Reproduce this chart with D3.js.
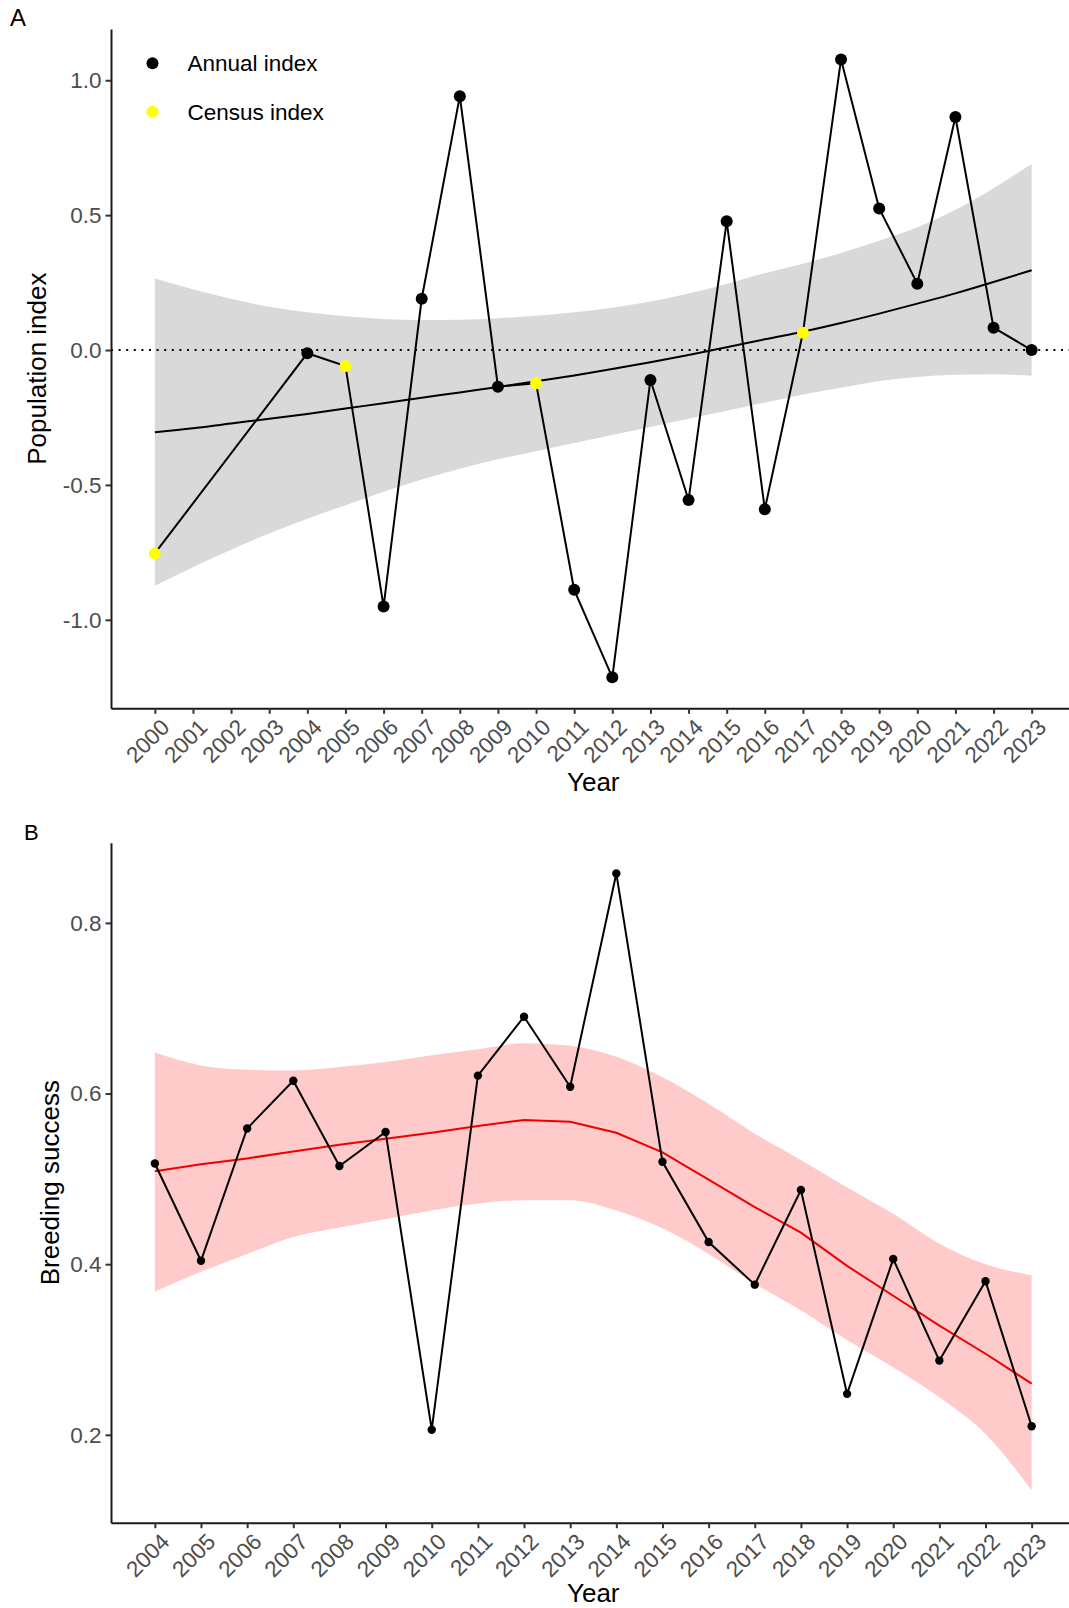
<!DOCTYPE html>
<html lang="en">
<head>
	<meta charset="UTF-8">
	<title>Population index and breeding success</title>
	<script src="https://cdn.jsdelivr.net/npm/d3@7"></script>
	<style>
		body{
			margin:0;
			background:white;
		}
		svg{
			display:block;
			font-family:"Liberation Sans", Arial, sans-serif;
		}
		.axis path, .axis line{
			stroke:#1a1a1a;
			stroke-width:2;
		}
		.axis .tick line{
			stroke:#333333;
		}
		.axis text{
			fill:#4d4d4d;
			font-size:22.5px;
			font-family:"Liberation Sans", Arial, sans-serif;
		}
		.title{
			font-size:26px;
			fill:black;
		}
	</style>
</head>
<body>
	<svg width="1069" height="1608"></svg>
	<script>
		// panel A: population index
		var popYears = [2000, 2004, 2005, 2006, 2007, 2008, 2009, 2010, 2011, 2012, 2013,
			2014, 2015, 2016, 2017, 2018, 2019, 2020, 2021, 2022, 2023];
		var popIndex = [-0.754, -0.012, -0.059, -0.951, 0.190, 0.941, -0.136, -0.123, -0.889, -1.213, -0.111,
			-0.556, 0.477, -0.590, 0.064, 1.077, 0.525, 0.246, 0.864, 0.083, 0.000];
		var censusYears = [2000, 2005, 2010, 2017];

		var trendYears = d3.range(2000, 2024);
		var trendFit = [-0.305, -0.290, -0.272, -0.255, -0.237, -0.217, -0.197, -0.177, -0.157, -0.137, -0.116, -0.094,
			-0.070, -0.045, -0.018, 0.010, 0.040, 0.068, 0.100, 0.135, 0.172, 0.210, 0.252, 0.296];
		var trendLo = [-0.874, -0.805, -0.740, -0.680, -0.625, -0.575, -0.525, -0.480, -0.440, -0.405, -0.375, -0.345,
			-0.315, -0.285, -0.255, -0.225, -0.195, -0.165, -0.140, -0.115, -0.100, -0.092, -0.090, -0.095];
		var trendHi = [0.265, 0.225, 0.190, 0.160, 0.140, 0.125, 0.115, 0.111, 0.112, 0.118, 0.127, 0.140,
			0.157, 0.180, 0.210, 0.245, 0.285, 0.320, 0.360, 0.405, 0.455, 0.520, 0.600, 0.690];
		var popTicks = [-1.0, -0.5, 0.0, 0.5, 1.0];

		var legendLabels = ["Annual index", "Census index"];
		var legendColors = ["black", "#ffff00"];

		// panel B: breeding success
		var bsYears = d3.range(2004, 2024);
		var bsValue = [0.518, 0.404, 0.559, 0.615, 0.515, 0.555, 0.206, 0.621, 0.690, 0.608,
			0.858, 0.520, 0.426, 0.376, 0.487, 0.248, 0.406, 0.287, 0.380, 0.210];
		var bsFit = [0.509, 0.517, 0.524, 0.532, 0.540, 0.547, 0.554, 0.562, 0.569, 0.567,
			0.554, 0.531, 0.499, 0.467, 0.437, 0.398, 0.363, 0.328, 0.295, 0.260];
		var bsLo = [0.368, 0.391, 0.412, 0.432, 0.443, 0.453, 0.463, 0.471, 0.475, 0.475,
			0.463, 0.442, 0.412, 0.377, 0.346, 0.311, 0.279, 0.244, 0.201, 0.135];
		var bsHi = [0.648, 0.633, 0.628, 0.627, 0.631, 0.637, 0.645, 0.652, 0.659, 0.656,
			0.643, 0.619, 0.588, 0.553, 0.522, 0.490, 0.459, 0.424, 0.400, 0.387];
		var bsTicks = [0.2, 0.4, 0.6, 0.8];

		var svg = d3.select("svg");
		var left = 111, right = 1075.5;

		// plain hyphen for negatives, like R does
		function fmt1(d){ return d.toFixed(1); }

		function drawXAxis(g, x, years, bottom, titleGap){
			var ax = g.append("g")
				.attr("class", "axis")
				.attr("transform", "translate(0," + bottom + ")")
				.call(d3.axisBottom(x).tickValues(years).tickFormat(d3.format("d")).tickSize(5.5).tickSizeOuter(0));
			ax.selectAll("text")
				.attr("x", 0)
				.attr("y", 0)
				.attr("dy", "0.72em")
				.attr("text-anchor", "end")
				.attr("transform", "translate(4,9) rotate(-45)");
			g.append("text")
				.attr("class", "title")
				.attr("x", (left + right) / 2)
				.attr("y", bottom + titleGap)
				.attr("text-anchor", "middle")
				.text("Year");
		}

		function drawYAxis(g, y, ticks, label, titleX){
			g.append("g")
				.attr("class", "axis")
				.attr("transform", "translate(" + left + ",0)")
				.call(d3.axisLeft(y).tickValues(ticks).tickFormat(fmt1).tickSize(5.5).tickPadding(4).tickSizeOuter(0));
			var r = y.range();
			g.append("text")
				.attr("class", "title")
				.attr("transform", "translate(" + titleX + "," + (r[0] + r[1]) / 2 + ") rotate(-90)")
				.attr("text-anchor", "middle")
				.text(label);
		}

		// ---------- panel A ----------
		var gA = svg.append("g");
		var xA = d3.scaleLinear().domain([2000 - 1.15, 2023 + 1.15]).range([left, right]);
		var yA = d3.scaleLinear().domain([-1.328, 1.19]).range([708.3, 29]);

		var bandA = trendYears.map(function(yr, i){
			return {year: yr, fit: trendFit[i], lo: trendLo[i], hi: trendHi[i]};
		});
		gA.append("path")
			.datum(bandA)
			.attr("fill", "#d9d9d9")
			.attr("d", d3.area()
				.x(function(d){ return xA(d.year); })
				.y0(function(d){ return yA(d.lo); })
				.y1(function(d){ return yA(d.hi); })
				.curve(d3.curveMonotoneX));

		gA.append("line")
			.attr("x1", left).attr("x2", 1069)
			.attr("y1", yA(0)).attr("y2", yA(0))
			.attr("stroke", "black")
			.attr("stroke-width", 2)
			.attr("stroke-dasharray", "2,5.6");

		gA.append("path")
			.datum(bandA)
			.attr("fill", "none")
			.attr("stroke", "black")
			.attr("stroke-width", 2)
			.attr("d", d3.line()
				.x(function(d){ return xA(d.year); })
				.y(function(d){ return yA(d.fit); })
				.curve(d3.curveMonotoneX));

		var popData = popYears.map(function(yr, i){
			return {year: yr, value: popIndex[i], census: censusYears.indexOf(yr) >= 0};
		});
		gA.append("path")
			.datum(popData)
			.attr("fill", "none")
			.attr("stroke", "black")
			.attr("stroke-width", 2)
			.attr("d", d3.line()
				.x(function(d){ return xA(d.year); })
				.y(function(d){ return yA(d.value); }));

		gA.selectAll(".pt")
			.data(popData)
			.enter().append("circle")
			.attr("class", "pt")
			.attr("cx", function(d){ return xA(d.year); })
			.attr("cy", function(d){ return yA(d.value); })
			.attr("r", 6)
			.attr("fill", function(d){ return d.census ? legendColors[1] : legendColors[0]; });

		drawYAxis(gA, yA, popTicks, "Population index", 46);
		drawXAxis(gA, xA, trendYears, 708.3, 83);

		var leg = gA.selectAll(".leg")
			.data(legendLabels)
			.enter().append("g")
			.attr("class", "leg")
			.attr("transform", function(d, i){ return "translate(152.5," + (63.3 + i * 48.4) + ")"; });
		leg.append("circle")
			.attr("r", 6)
			.attr("fill", function(d, i){ return legendColors[i]; });
		leg.append("text")
			.attr("x", 35)
			.attr("y", 8)
			.attr("font-size", "22.5px")
			.text(function(d){ return d; });

		svg.append("text")
			.attr("x", 10)
			.attr("y", 26)
			.attr("font-size", "24px")
			.text("A");

		// ---------- panel B ----------
		var gB = svg.append("g");
		var xB = d3.scaleLinear().domain([2004 - 0.95, 2023 + 0.95]).range([left, right]);
		var yB = d3.scaleLinear().domain([0.097, 0.894]).range([1522.7, 842.7]);

		var bsData = bsYears.map(function(yr, i){
			return {year: yr, value: bsValue[i], fit: bsFit[i], lo: bsLo[i], hi: bsHi[i]};
		});

		gB.append("path")
			.datum(bsData)
			.attr("fill", "#ffcaca")
			.attr("d", d3.area()
				.x(function(d){ return xB(d.year); })
				.y0(function(d){ return yB(d.lo); })
				.y1(function(d){ return yB(d.hi); })
				.curve(d3.curveMonotoneX));

		gB.append("path")
			.datum(bsData)
			.attr("fill", "none")
			.attr("stroke", "#ee0000")
			.attr("stroke-width", 2)
			.attr("d", d3.line()
				.x(function(d){ return xB(d.year); })
				.y(function(d){ return yB(d.fit); }));

		gB.append("path")
			.datum(bsData)
			.attr("fill", "none")
			.attr("stroke", "black")
			.attr("stroke-width", 2)
			.attr("d", d3.line()
				.x(function(d){ return xB(d.year); })
				.y(function(d){ return yB(d.value); }));

		gB.selectAll(".pt")
			.data(bsData)
			.enter().append("circle")
			.attr("class", "pt")
			.attr("cx", function(d){ return xB(d.year); })
			.attr("cy", function(d){ return yB(d.value); })
			.attr("r", 4.2)
			.attr("fill", "black");

		drawYAxis(gB, yB, bsTicks, "Breeding success", 59);
		drawXAxis(gB, xB, bsYears, 1522.7, 79);

		svg.append("text")
			.attr("x", 24)
			.attr("y", 840)
			.attr("font-size", "22px")
			.text("B");
	</script>
</body>
</html>
